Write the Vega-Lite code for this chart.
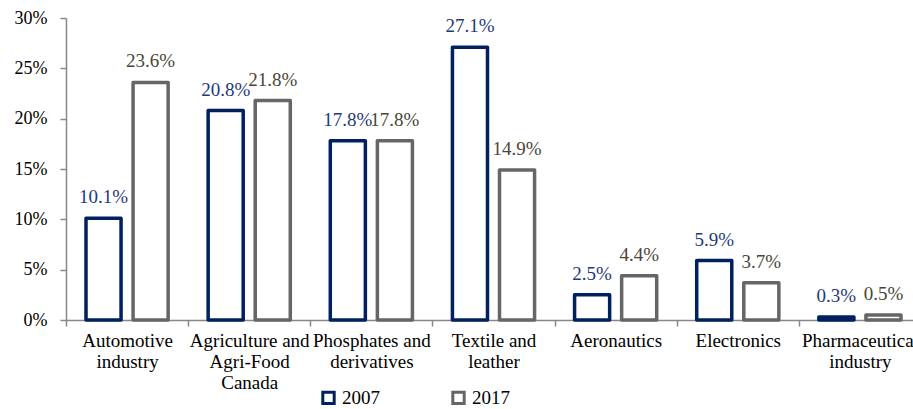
{
  "$schema": "https://vega.github.io/schema/vega-lite/v6.json",
  "width": 855,
  "height": 302,
  "autosize": {"type": "none"},
  "padding": {"left": 66, "top": 18, "right": 0, "bottom": 89},
  "background": "white",
  "config": {"font": "Liberation Serif", "view": {"stroke": null}},
  "data": {
    "values": [
      {"sector": "Automotive\nindustry", "year": "2007", "share": 0.101},
      {"sector": "Automotive\nindustry", "year": "2017", "share": 0.236},
      {"sector": "Agriculture and\nAgri-Food\nCanada", "year": "2007", "share": 0.208},
      {"sector": "Agriculture and\nAgri-Food\nCanada", "year": "2017", "share": 0.218},
      {"sector": "Phosphates and\nderivatives", "year": "2007", "share": 0.178},
      {"sector": "Phosphates and\nderivatives", "year": "2017", "share": 0.178},
      {"sector": "Textile and\nleather", "year": "2007", "share": 0.271},
      {"sector": "Textile and\nleather", "year": "2017", "share": 0.149},
      {"sector": "Aeronautics", "year": "2007", "share": 0.025},
      {"sector": "Aeronautics", "year": "2017", "share": 0.044},
      {"sector": "Electronics", "year": "2007", "share": 0.059},
      {"sector": "Electronics", "year": "2017", "share": 0.037},
      {"sector": "Pharmaceutical\nindustry", "year": "2007", "share": 0.003},
      {"sector": "Pharmaceutical\nindustry", "year": "2017", "share": 0.005}
    ]
  },
  "encoding": {
    "x": {
      "field": "sector",
      "type": "nominal",
      "sort": null,
      "scale": {"paddingInner": 0, "paddingOuter": 0},
      "axis": {
        "title": null,
        "labelAngle": 0,
        "tickBand": "extent",
        "tickSize": 6,
        "domainColor": "#888888",
        "tickColor": "#888888",
        "domainWidth": 1.5,
        "tickWidth": 1.5,
        "labelFontSize": 19,
        "labelColor": "#000000",
        "labelPadding": 5,
        "labelLineHeight": 21,
        "labelLimit": 300,
        "labelExpr": "split(datum.label, '\\n')"
      }
    },
    "xOffset": {
      "field": "year",
      "type": "nominal",
      "scale": {"paddingInner": 0.255, "paddingOuter": 0.425}
    },
    "y": {
      "field": "share",
      "type": "quantitative",
      "scale": {"domain": [0, 0.3]},
      "axis": {
        "title": null,
        "values": [0, 0.05, 0.1, 0.15, 0.2, 0.25, 0.3],
        "format": ".0%",
        "grid": false,
        "domainColor": "#888888",
        "tickColor": "#888888",
        "domainWidth": 1.5,
        "tickWidth": 1.5,
        "tickSize": 6,
        "labelFontSize": 18,
        "labelColor": "#000000",
        "labelPadding": 13
      }
    }
  },
  "layer": [
    {
      "mark": {"type": "bar", "fill": "white", "strokeWidth": 3.5, "strokeJoin": "round"},
      "encoding": {
        "stroke": {
          "field": "year",
          "type": "nominal",
          "scale": {"domain": ["2007", "2017"], "range": ["#002060", "#666666"]},
          "legend": {
            "orient": "none",
            "legendX": 253,
            "legendY": 370,
            "direction": "horizontal",
            "title": null,
            "symbolType": "square",
            "symbolFillColor": "white",
            "symbolStrokeWidth": 3,
            "symbolSize": 130,
            "labelFontSize": 19,
            "labelColor": "#000000",
            "columnPadding": 66,
            "labelOffset": 4
          }
        }
      }
    },
    {
      "mark": {"type": "text", "dy": -15, "baseline": "alphabetic", "fontSize": 19},
      "encoding": {
        "text": {"field": "share", "type": "quantitative", "format": ".1%"},
        "color": {
          "condition": {"test": "datum.year === '2007'", "value": "#1f3a78"},
          "value": "#4a4636"
        }
      }
    }
  ]
}
